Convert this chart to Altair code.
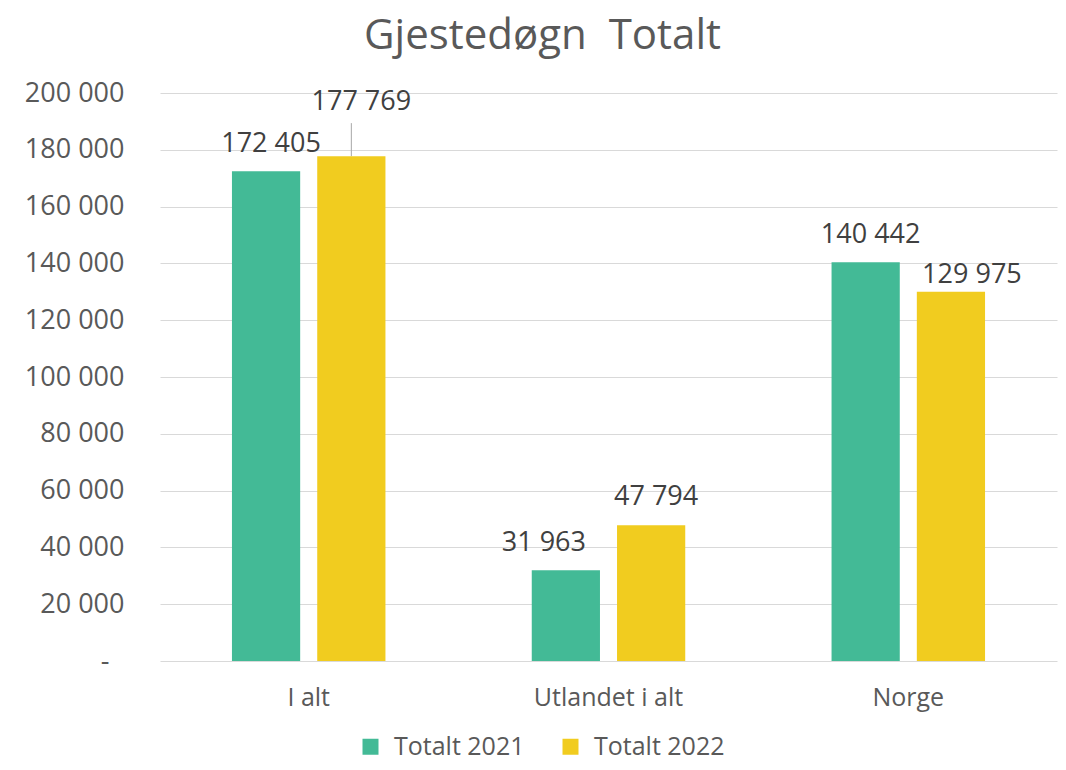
import altair as alt
import pandas as pd

categories = ["I alt", "Utlandet i alt", "Norge"]
series = ["Totalt 2021", "Totalt 2022"]
values_2021 = [172405, 31963, 140442]
values_2022 = [177769, 47794, 129975]
y_ticks = [0, 20000, 40000, 60000, 80000, 100000, 120000, 140000, 160000, 180000, 200000]
colors = ["#43BA96", "#F1CC1F"]

rows = []
for c, v1, v2 in zip(categories, values_2021, values_2022):
    rows.append({"Category": c, "Series": series[0], "Value": v1})
    rows.append({"Category": c, "Series": series[1], "Value": v2})
df = pd.DataFrame(rows)

FONT = "Open Sans"
NBSP = "\u00a0"

x_enc = alt.X("Category:N", sort=categories,
              scale=alt.Scale(paddingInner=0.488, paddingOuter=0.24),
              axis=alt.Axis(title=None, labelAngle=0, domain=False, ticks=False,
                            labelFontSize=25, labelColor="#595959", labelFont=FONT,
                            labelPadding=24))
xo_enc = alt.XOffset("Series:N", sort=series, scale=alt.Scale(paddingInner=0.2, paddingOuter=0))
y_enc = alt.Y("Value:Q", scale=alt.Scale(domain=[0, 200000], nice=False),
              axis=alt.Axis(title=None, values=y_ticks, domain=False, ticks=False,
                            gridColor="#D9D9D9", gridWidth=1.2,
                            labelFontSize=27, labelColor="#595959", labelFont=FONT,
                            labelPadding={"condition": {"test": "datum.value === 0", "value": 51}, "value": 36},
                            labelExpr="datum.value == 0 ? '-' : replace(format(datum.value, ','), ',', ' ')"))

base = alt.Chart(df)

bars = base.mark_bar().encode(
    x=x_enc, xOffset=xo_enc, y=y_enc,
    color=alt.Color("Series:N", sort=series,
                    scale=alt.Scale(domain=series, range=colors),
                    legend=alt.Legend(title=None, orient="none", direction="horizontal",
                                      legendX=198, legendY=641,
                                      symbolType="square", symbolSize=256, symbolStrokeWidth=0,
                                      labelFontSize=25, labelColor="#595959", labelFont=FONT,
                                      labelOffset=11, columnPadding=33, padding=0)),
)

# per-label offsets (mark styling)
label_offsets = {
    ("I alt", "Totalt 2021"): (5, -19),
    ("I alt", "Totalt 2022"): (10, -46),
    ("Utlandet i alt", "Totalt 2021"): (-22, -19),
    ("Utlandet i alt", "Totalt 2022"): (5, -20),
    ("Norge", "Totalt 2021"): (5, -19),
    ("Norge", "Totalt 2022"): (21, -9),
}

layers = [bars]
for (c, s), (dx, dy) in label_offsets.items():
    t = base.transform_filter(
        (alt.datum.Category == c) & (alt.datum.Series == s)
    ).transform_calculate(
        label="replace(format(datum.Value, ','), ',', ' ')"
    ).mark_text(font=FONT, fontSize=27, color="#404040", dx=dx, dy=dy,
                baseline="alphabetic", align="center").encode(
        x=alt.X("Category:N", sort=categories), xOffset=alt.XOffset("Series:N", sort=series),
        y="Value:Q", text="label:N")
    layers.append(t)

leader = base.transform_filter(
    (alt.datum.Category == "I alt") & (alt.datum.Series == "Totalt 2022")
).mark_rule(color="#A6A6A6", strokeWidth=1, yOffset=-33, y2Offset=0).encode(
    x=alt.X("Category:N", sort=categories), xOffset=alt.XOffset("Series:N", sort=series),
    y="Value:Q", y2="Value:Q")
layers.append(leader)

chart = alt.layer(*layers).properties(
    width=897, height=568,
    title=alt.TitleParams("Gjestedøgn " + NBSP + "Totalt", fontSize=42, font=FONT,
                          color="#595959", fontWeight="normal", anchor="middle",
                          dx=-66, offset=21),
    autosize=alt.AutoSizeParams(type="none"),
    padding={"left": 152, "top": 85, "right": 1, "bottom": 101},
).configure(background="white").configure_view(stroke=None)

chart.save("out.html", embed_options={"renderer": "svg", "actions": False})
